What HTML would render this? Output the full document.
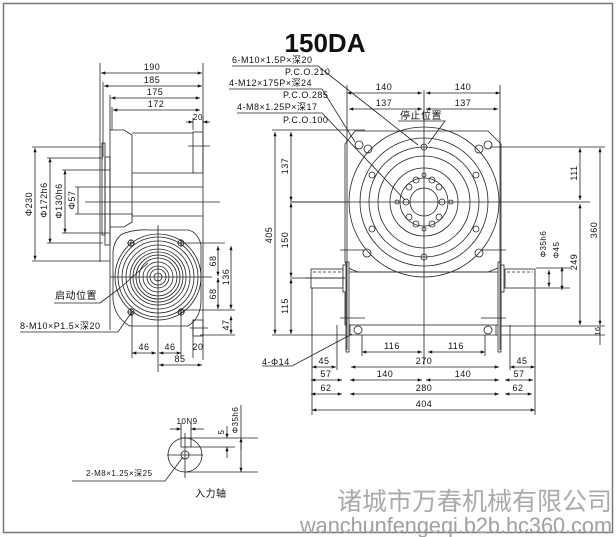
<!DOCTYPE html>
<html><head><meta charset="utf-8"><style>
html,body{margin:0;padding:0;background:#fff}
svg{display:block}
text{font-family:"Liberation Sans","Noto Sans CJK SC",sans-serif;fill:#111}
.t{font-size:9px;font-family:"Liberation Mono","Noto Sans CJK SC",monospace;letter-spacing:0.5px}
</style></head><body>
<svg width="616" height="537" viewBox="0 0 616 537" xmlns="http://www.w3.org/2000/svg">
<defs>
<marker id="a" viewBox="0 0 8 6" refX="8" refY="3" markerWidth="6" markerHeight="4" orient="auto-start-reverse"><path d="M0,0L8,3L0,6z" fill="#111"/></marker>
</defs>
<rect x="3.5" y="3.5" width="609" height="529" fill="none" stroke="#777" stroke-width="1.5"/>
<text x="325" y="52" font-size="26" font-weight="bold" text-anchor="middle">150DA</text>

<g stroke="#222" stroke-width="0.8" fill="none">
<!-- LEFT VIEW -->
<line x1="100" y1="63" x2="100" y2="262"/><line x1="203" y1="63" x2="203" y2="360"/>
<line x1="103" y1="82" x2="103" y2="157"/><line x1="110" y1="95" x2="110" y2="130"/><line x1="112" y1="107" x2="112" y2="130"/>
<g marker-start="url(#a)" marker-end="url(#a)">
<line x1="101" y1="73" x2="202" y2="73"/><line x1="104" y1="86" x2="202" y2="86"/><line x1="111" y1="98" x2="200" y2="98"/><line x1="113" y1="110" x2="200" y2="110"/>
<line x1="35" y1="148" x2="35" y2="260"/><line x1="50" y1="158" x2="50" y2="243"/><line x1="65" y1="170" x2="65" y2="233"/>
<line x1="218" y1="246" x2="218" y2="276"/><line x1="218" y1="278" x2="218" y2="309"/><line x1="231" y1="246" x2="231" y2="309"/><line x1="231" y1="316" x2="231" y2="334"/>
<line x1="132" y1="353" x2="156" y2="353"/><line x1="159" y1="353" x2="181" y2="353"/><line x1="159" y1="365" x2="202" y2="365"/>
</g>
<line x1="78" y1="187" x2="78" y2="214"/>
<line x1="193" y1="118" x2="193" y2="130"/><line x1="203" y1="118" x2="203" y2="130"/>
<line x1="186" y1="122" x2="193" y2="122" marker-end="url(#a)"/><line x1="210" y1="122" x2="203" y2="122" marker-end="url(#a)"/>
<line x1="32" y1="147" x2="102" y2="147"/><line x1="47" y1="158" x2="103" y2="158"/><line x1="62" y1="170" x2="110" y2="170"/><line x1="75" y1="187" x2="133" y2="187"/><line x1="75" y1="214" x2="133" y2="214"/>
<line x1="62" y1="233" x2="110" y2="233"/><line x1="47" y1="243" x2="103" y2="243"/><line x1="32" y1="261" x2="110" y2="261"/>
<line x1="85" y1="202" x2="220" y2="202"/>
<rect x="102" y="143" width="3" height="92"/><rect x="105" y="157" width="5" height="88"/>
<path d="M110,130 V330 M110,130 H124 L132,135 V222 L124,227 H110"/>
<path d="M132,133 H193 M132,173 H193 M132,187 H203 M132,216 H203"/>
<rect x="193" y="132" width="10" height="41"/><line x1="188" y1="146" x2="210" y2="146"/>
<!-- cam -->
<path d="M122,234 Q135,229 150,230 H188 Q198,232 201,245 V300 Q201,318 188,326 H130 Q115,318 113,300 V252 Q114,240 122,234Z"/>
<circle cx="158" cy="277" r="43"/><circle cx="158" cy="277" r="40"/><circle cx="158" cy="277" r="36"/><circle cx="158" cy="277" r="32"/><circle cx="158" cy="277" r="28"/><circle cx="158" cy="277" r="25"/><circle cx="158" cy="277" r="22"/><circle cx="158" cy="277" r="19"/><circle cx="158" cy="277" r="15"/><circle cx="158" cy="277" r="11"/><circle cx="158" cy="277" r="8"/><circle cx="158" cy="277" r="4"/>
<line x1="158" y1="225" x2="158" y2="372"/><line x1="110" y1="277" x2="212" y2="277"/>
<circle cx="131" cy="243" r="3"/><circle cx="181" cy="243" r="3"/><circle cx="131" cy="312" r="3"/><circle cx="181" cy="312" r="3"/>
<path d="M127,243h8M131,239v8M177,243h8M181,239v8M127,312h8M131,308v8M177,312h8M181,308v8"/>
<line x1="181" y1="243" x2="225" y2="243"/><line x1="181" y1="310" x2="235" y2="310"/><line x1="200" y1="335" x2="235" y2="335"/>
<line x1="132" y1="312" x2="132" y2="358"/><line x1="181" y1="312" x2="181" y2="358"/><line x1="193" y1="320" x2="193" y2="358"/>
<rect x="193" y="320" width="10" height="16"/><line x1="190" y1="328" x2="208" y2="328"/>
<path d="M100,303 H54 M148,263 L120,288 L100,303"/>
<path d="M20,332 H118 L131,313"/>

<!-- RIGHT VIEW -->
<path d="M355,131 H488 L501,144 V262 L498,268 L488,272 H358 L348,268 L345,262 V144 Z"/>
<circle cx="424" cy="202" r="75"/><circle cx="424" cy="202" r="64"/><circle cx="424" cy="202" r="55"/><circle cx="424" cy="202" r="46"/><circle cx="424" cy="202" r="34"/><circle cx="424" cy="202" r="24"/><circle cx="424" cy="202" r="14"/>
<line x1="424" y1="90" x2="424" y2="365"/><line x1="290" y1="202" x2="590" y2="202"/>
<g>
<circle cx="424" cy="147" r="3"/><circle cx="424" cy="257" r="3"/><circle cx="424" cy="175" r="2"/><circle cx="424" cy="229" r="2"/><circle cx="397" cy="202" r="2"/><circle cx="451" cy="202" r="2"/>
<circle cx="372" cy="175" r="3"/><circle cx="476" cy="175" r="3"/><circle cx="372" cy="229" r="3"/><circle cx="476" cy="229" r="3"/>
<circle cx="359" cy="145" r="4"/><circle cx="488" cy="145" r="4"/><circle cx="368" cy="149" r="4"/><circle cx="479" cy="149" r="4"/><circle cx="367" cy="253" r="4"/><circle cx="479" cy="253" r="4"/>
<circle cx="409" cy="187" r="3"/><circle cx="439" cy="187" r="3"/><circle cx="406" cy="202" r="3"/><circle cx="442" cy="202" r="3"/><circle cx="409" cy="217" r="3"/><circle cx="439" cy="217" r="3"/><circle cx="416" cy="224" r="3"/><circle cx="432" cy="224" r="3"/><circle cx="416" cy="180" r="3"/><circle cx="432" cy="180" r="3"/>
</g>
<rect x="345" y="272" width="156" height="53"/><line x1="345" y1="335" x2="501" y2="335"/><line x1="350" y1="325" x2="350" y2="335"/><line x1="496" y1="325" x2="496" y2="335"/>
<rect x="346" y="262" width="3" height="90" fill="#fff"/><rect x="498" y="262" width="3" height="90" fill="#fff"/>
<rect x="311" y="269" width="32" height="19" fill="#fff"/><rect x="505" y="269" width="30" height="19" fill="#fff"/>
<rect x="343" y="265" width="3" height="27" fill="#fff"/><rect x="501" y="265" width="3" height="27" fill="#fff"/>
<path d="M313,272H342M507,272H533" stroke-dasharray="3,2"/>
<line x1="305" y1="278" x2="345" y2="278"/>
<circle cx="358" cy="330" r="4"/><circle cx="488" cy="330" r="4"/>
<path d="M340,318h25M481,318h25M340,250h25M481,250h25"/>
<!-- dims -->
<g marker-start="url(#a)" marker-end="url(#a)">
<line x1="347" y1="93" x2="422" y2="93"/><line x1="426" y1="93" x2="500" y2="93"/><line x1="349" y1="109" x2="422" y2="109"/><line x1="426" y1="109" x2="498" y2="109"/>
<line x1="275" y1="132" x2="275" y2="334"/><line x1="291" y1="132" x2="291" y2="201"/><line x1="291" y1="203" x2="291" y2="277"/><line x1="291" y1="279" x2="291" y2="334"/>
<line x1="580" y1="148" x2="580" y2="200"/><line x1="600" y1="148" x2="600" y2="325"/><line x1="580" y1="204" x2="580" y2="325"/>
<line x1="362" y1="352" x2="422" y2="352"/><line x1="428" y1="352" x2="485" y2="352"/>
<line x1="351" y1="367" x2="499" y2="367"/><line x1="350" y1="380" x2="422" y2="380"/><line x1="426" y1="380" x2="499" y2="380"/><line x1="350" y1="394" x2="499" y2="394"/>
<line x1="312" y1="367" x2="336" y2="367"/><line x1="311" y1="380" x2="342" y2="380"/><line x1="311" y1="394" x2="342" y2="394"/>
<line x1="510" y1="367" x2="535" y2="367"/><line x1="505" y1="380" x2="533" y2="380"/><line x1="505" y1="394" x2="532" y2="394"/>
<line x1="312" y1="410" x2="535" y2="410"/>
<line x1="549" y1="270" x2="549" y2="287"/><line x1="562" y1="267" x2="562" y2="290"/>
</g>
<path d="M347,85V350M500,85V350M272,130H365M290,202H345M290,278H345M272,335H345M490,147H605M500,326H605M501,335H605M536,288H570M536,268H570"/>
<path d="M312,288V415M535,288V415M337,325V370M510,325V370M362,335V356M485,335V356"/>
<line x1="600" y1="326" x2="600" y2="345"/>
<!-- leaders -->
<path d="M232,66H318L418,145"/><path d="M229,89H322L355,142"/><path d="M237,113H322L405,200"/>
<path d="M398,121H445L428,144"/>
<path d="M262,366H292L352,334"/>
<!-- INPUT SHAFT -->
<circle cx="185" cy="455" r="17"/><circle cx="185" cy="455" r="4"/>
<rect x="181" y="438" width="10" height="9"/>
<line x1="167" y1="455" x2="203" y2="455"/><line x1="185" y1="433" x2="185" y2="478"/>
<path d="M181,423V438M191,423V438"/>
<line x1="170" y1="429" x2="181" y2="429" marker-end="url(#a)"/><line x1="204" y1="429" x2="191" y2="429" marker-end="url(#a)"/>
<path d="M191,438H258M191,447H235M185,472H258"/>
<line x1="227" y1="426" x2="227" y2="438" marker-end="url(#a)"/><line x1="227" y1="458" x2="227" y2="447" marker-end="url(#a)"/>
<line x1="241" y1="405" x2="241" y2="472" marker-end="url(#a)"/><line x1="241" y1="450" x2="241" y2="438" marker-end="url(#a)"/>
<path d="M72,481H165L183,457"/>
</g>

<g class="t">
<text x="152" y="70" text-anchor="middle">190</text><text x="152" y="83" text-anchor="middle">185</text><text x="155" y="95" text-anchor="middle">175</text><text x="156" y="107" text-anchor="middle">172</text>
<text x="198" y="120" text-anchor="middle" font-size="8">20</text>
<text transform="translate(32,204) rotate(-90)" text-anchor="middle">Φ230</text>
<text transform="translate(47,200) rotate(-90)" text-anchor="middle">Φ172h6</text>
<text transform="translate(62,201) rotate(-90)" text-anchor="middle">Φ130h6</text>
<text transform="translate(75,200) rotate(-90)" text-anchor="middle">Φ57</text>
<text transform="translate(216,261) rotate(-90)" text-anchor="middle">68</text><text transform="translate(216,294) rotate(-90)" text-anchor="middle">68</text>
<text transform="translate(229,277) rotate(-90)" text-anchor="middle">136</text><text transform="translate(229,325) rotate(-90)" text-anchor="middle">47</text>
<text x="144" y="350" text-anchor="middle">46</text><text x="170" y="350" text-anchor="middle">46</text><text x="198" y="350" text-anchor="middle">20</text><text x="180" y="362" text-anchor="middle">85</text>
<text x="55" y="299" font-size="10">启动位置</text>
<text x="20" y="329">8-M10×P1.5×深20</text>
<text x="232" y="63">6-M10×1.5P×深20</text><text x="285" y="75">P.C.O.210</text>
<text x="229" y="86">4-M12×175P×深24</text><text x="283" y="98">P.C.O.285</text>
<text x="237" y="110">4-M8×1.25P×深17</text><text x="283" y="123">P.C.O.100</text>
<text x="400" y="119" font-size="10">停止位置</text>
<text x="384" y="90" text-anchor="middle">140</text><text x="463" y="90" text-anchor="middle">140</text>
<text x="384" y="106" text-anchor="middle">137</text><text x="463" y="106" text-anchor="middle">137</text>
<text transform="translate(272,235) rotate(-90)" text-anchor="middle">405</text>
<text transform="translate(288,166) rotate(-90)" text-anchor="middle">137</text>
<text transform="translate(288,240) rotate(-90)" text-anchor="middle">150</text>
<text transform="translate(288,306) rotate(-90)" text-anchor="middle">115</text>
<text transform="translate(577,173) rotate(-90)" text-anchor="middle">111</text>
<text transform="translate(597,230) rotate(-90)" text-anchor="middle">360</text>
<text transform="translate(577,262) rotate(-90)" text-anchor="middle">249</text>
<text transform="translate(546,244) rotate(-90)" text-anchor="middle" font-size="8">Φ35h6</text>
<text transform="translate(559,250) rotate(-90)" text-anchor="middle" font-size="8">Φ45</text>
<text transform="translate(600,331) rotate(-90)" text-anchor="middle" font-size="7">16</text>
<text x="392" y="349" text-anchor="middle">116</text><text x="456" y="349" text-anchor="middle">116</text>
<text x="424" y="364" text-anchor="middle">270</text>
<text x="385" y="377" text-anchor="middle">140</text><text x="463" y="377" text-anchor="middle">140</text>
<text x="424" y="391" text-anchor="middle">280</text><text x="424" y="407" text-anchor="middle">404</text>
<text x="324" y="364" text-anchor="middle">45</text><text x="326" y="377" text-anchor="middle">57</text><text x="326" y="391" text-anchor="middle">62</text>
<text x="522" y="364" text-anchor="middle">45</text><text x="519" y="377" text-anchor="middle">57</text><text x="518" y="391" text-anchor="middle">62</text>
<text x="262" y="365">4-Φ14</text>
<text x="187" y="424" text-anchor="middle" font-size="8">10N9</text>
<text transform="translate(224,432) rotate(-90)" text-anchor="middle" font-size="8">5</text>
<text transform="translate(238,420) rotate(-90)" text-anchor="middle" font-size="8">Φ35h6</text>
<text x="86" y="476" font-size="8">2-M8×1.25×深25</text>
<text x="195" y="497" font-size="10">入力轴</text>
</g>
<text x="612" y="510" font-size="25" style="fill:#aaaaaa" text-anchor="end">诸城市万春机械有限公司</text>
<text x="612" y="533" font-size="22" style="fill:#a0a0a0" text-anchor="end" textLength="312" lengthAdjust="spacingAndGlyphs">wanchunfengeqi.b2b.hc360.com</text>
</svg>
</body></html>
